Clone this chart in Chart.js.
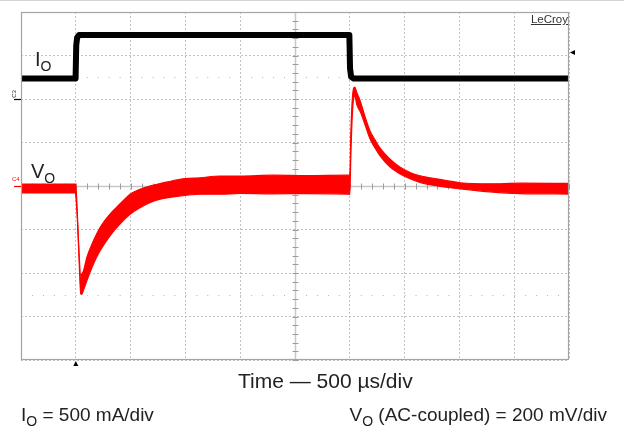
<!DOCTYPE html>
<html>
<head>
<meta charset="utf-8">
<script src="https://cdn.jsdelivr.net/npm/chart.js@4.4.1/dist/chart.umd.min.js"></script>
<style>
  html, body { margin: 0; padding: 0; background: #fff; }
  #wrap { position: relative; width: 624px; height: 426px; overflow: hidden;
          font-family: "Liberation Sans", Arial, sans-serif; color: #222; border-top: 1px solid #d4d4d4; box-sizing: border-box; }
  #scope { position: absolute; left: 0; top: 0; }
  .lbl { position: absolute; white-space: nowrap; line-height: 1; }
  .lbl sub { font-size: 14px; vertical-align: -5px; line-height: 0; }
</style>
</head>
<body>
<div id="wrap">
  <canvas id="scope" width="624" height="426"></canvas>

  <div class="lbl" style="left:35px; top:48px; font-size:20px;">I<sub>O</sub></div>
  <div class="lbl" style="left:31px; top:160px; font-size:20px;">V<sub>O</sub></div>
  <div class="lbl" style="right:56px; top:13px; font-size:11.5px; color:#333; text-decoration:underline;">LeCroy</div>
  <div class="lbl" style="left:10px; top:90px; font-size:6px; transform:rotate(-90deg); transform-origin:center;">C3</div>
  <div class="lbl" style="left:12px; top:175px; font-size:6px; color:#ff0000;">C4</div>

  <div class="lbl" style="left:238px; top:369px; font-size:21px;">Time — 500 µs/div</div>
  <div class="lbl" style="left:21px; top:404px; font-size:19px;">I<sub>O</sub> = 500 mA/div</div>
  <div class="lbl" style="right:17px; top:404px; font-size:19px;">V<sub>O</sub> (AC-coupled) = 200 mV/div</div>
</div>

<script>
// ==================== 示波器截图数据 ====================

// 时间轴 (µs), 500 µs/div, 10 div
const timeTicks = [0, 500, 1000, 1500, 2000, 2500, 3000, 3500, 4000, 4500, 5000];

// IO 负载电流 (mA), 500 mA/div
const ioTime  = [0, 498, 504, 512, 530, 2996, 3002, 3012, 3035, 5000];
const ioLevel = [0,   0, 380, 470, 500,  500,  120,   20,    0,    0];

// VO 输出电压 (mV, 交流耦合), 200 mV/div —— 噪声带上下包络
const voTime  = [0, 495, 500, 515, 530, 545, 555, 570, 600, 660, 720, 810, 900, 995, 1085, 1175, 1270, 1450, 1635, 1815, 2000, 2300, 2600, 2995,
                 3000, 3010, 3025, 3045, 3065, 3095, 3140, 3185, 3230, 3275, 3365, 3460, 3550, 3640, 3730, 3825, 3915, 4005, 4280, 4550, 5000];
const voUpper = [9, 9, 9, -140, -310, -420, -405, -390, -330, -253, -192, -130, -84, -38, -15, 0, 11, 31, 38, 46, 46, 50, 48, 50,
                 50, 250, 414, 455, 428, 391, 317, 253, 212, 175, 124, 86, 62, 47, 38, 31, 22, 15, 10, 13, 12];
const voLower = [-32, -32, -45, -160, -340, -495, -498, -480, -437, -360, -299, -230, -176, -130, -100, -77, -61, -46, -38, -38, -34, -36, -35, -38,
                 -40, 150, 345, 414, 372, 342, 280, 216, 175, 140, 88, 55, 33, 16, 6, -2, -8, -13, -27, -35, -37];

// 参考电平 (mV) 与触发
const dottedLevels = [500, -500];
const triggerTime = 500;      // µs
const triggerLevelI = 300;    // mA
const ioOffsetDiv = 2.47;     // IO 零点所在格数
const channelMarksDiv = [2, 0];

const toPoints = (xs, ys) => xs.map((t, i) => ({ x: t, y: ys[i] }));

/**
 * 示波器面板: 中心十字、刻度、点线、边框和触发标记
 */
const scopeDecor = {
    id: 'scopeDecor',
    beforeDatasetsDraw(chart) {
        const { ctx, chartArea: a, scales: { x, y } } = chart;
        const line = (x1, y1, x2, y2) => { ctx.beginPath(); ctx.moveTo(x1, y1); ctx.lineTo(x2, y2); ctx.stroke(); };
        ctx.save();

        // 点线参考电平
        const minorX = x.getPixelForValue(100) - x.getPixelForValue(0);
        ctx.strokeStyle = '#b4b4b4';
        ctx.lineWidth = 1;
        ctx.setLineDash([1, minorX - 1]);
        dottedLevels.forEach(v => {
            const py = Math.round(y.getPixelForValue(v)) + 0.5;
            line(a.left, py, a.right, py);
        });
        ctx.setLineDash([]);

        // 中心十字
        const cx = Math.round(x.getPixelForValue(2500)) + 0.5;
        const cy = Math.round(y.getPixelForValue(0)) + 0.5;
        ctx.strokeStyle = '#c8c8c8';
        ctx.lineWidth = 1.5;
        line(a.left, cy, a.right, cy);
        line(cx, a.top, cx, a.bottom);

        // 中心刻度
        ctx.strokeStyle = '#9c9c9c';
        ctx.lineWidth = 1;
        for (let t = 0; t <= 5000; t += 100) {
            const px = Math.round(x.getPixelForValue(t)) + 0.5;
            line(px, cy - 3, px, cy + 3);
        }
        for (let v = -800; v <= 800; v += 40) {
            const py = Math.round(y.getPixelForValue(v)) + 0.5;
            line(cx - 3, py, cx + 3, py);
        }
        ctx.restore();
    },
    afterDatasetsDraw(chart) {
        const { ctx, chartArea: a, scales: { x, y, yI } } = chart;
        ctx.save();

        // 边框
        ctx.strokeStyle = '#a4a4a4';
        ctx.lineWidth = 1.2;
        ctx.strokeRect(a.left + 0.5, a.top + 0.5, a.right - a.left - 1, a.bottom - a.top - 1);

        // 通道标记
        const colors = ['#000', '#ff0000'];
        channelMarksDiv.forEach((d, i) => {
            const py = Math.round(y.getPixelForValue(d * 200)) + 0.5;
            ctx.strokeStyle = colors[i];
            ctx.beginPath(); ctx.moveTo(a.left - 7, py); ctx.lineTo(a.left, py); ctx.stroke();
        });

        // 触发电平 (右侧) 与触发时刻 (底部) 三角
        ctx.fillStyle = '#000';
        const ty = yI.getPixelForValue(triggerLevelI);
        ctx.beginPath();
        ctx.moveTo(a.right + 1, ty); ctx.lineTo(a.right + 6, ty - 2.5); ctx.lineTo(a.right + 6, ty + 2.5);
        ctx.closePath(); ctx.fill();

        const tx = x.getPixelForValue(triggerTime);
        ctx.beginPath();
        ctx.moveTo(tx, a.bottom + 1); ctx.lineTo(tx - 2.5, a.bottom + 6); ctx.lineTo(tx + 2.5, a.bottom + 6);
        ctx.closePath(); ctx.fill();
        ctx.restore();
    }
};

const gridStyle = { color: '#c2c2c2', lineWidth: 1, drawTicks: false };

new Chart(document.getElementById('scope'), {
    type: 'line',
    data: {
        datasets: [
            {
                label: 'IO',
                data: toPoints(ioTime, ioLevel),
                yAxisID: 'yI',
                borderColor: '#000',
                borderWidth: 6,
                borderJoinStyle: 'round',
                pointRadius: 0,
                fill: false
            },
            {
                label: 'VO upper',
                data: toPoints(voTime, voUpper),
                yAxisID: 'y',
                borderColor: '#ff0000',
                borderWidth: 1.2,
                cubicInterpolationMode: 'monotone',
                pointRadius: 0,
                fill: false
            },
            {
                label: 'VO lower',
                data: toPoints(voTime, voLower),
                yAxisID: 'y',
                borderColor: '#ff0000',
                backgroundColor: '#ff0000',
                borderWidth: 1.2,
                cubicInterpolationMode: 'monotone',
                pointRadius: 0,
                fill: '-1'
            }
        ]
    },
    options: {
        responsive: false,
        animation: false,
        events: [],
        layout: { padding: { left: 21, top: 11, right: 55, bottom: 67 } },
        scales: {
            x: {
                type: 'linear',
                min: timeTicks[0],
                max: timeTicks[timeTicks.length - 1],
                afterBuildTicks: scale => { scale.ticks = timeTicks.map(v => ({ value: v })); },
                ticks: { display: false },
                grid: gridStyle,
                border: { display: false, dash: [2, 2] }
            },
            y: {
                min: -800,
                max: 800,
                ticks: { display: false, stepSize: 200 },
                grid: gridStyle,
                border: { display: false, dash: [2, 2] }
            },
            yI: {
                display: false,
                min: -(4 + ioOffsetDiv) * 500,
                max: (4 - ioOffsetDiv) * 500
            }
        },
        plugins: {
            legend: { display: false },
            tooltip: { enabled: false }
        }
    },
    plugins: [scopeDecor]
});
</script>
</body>
</html>
